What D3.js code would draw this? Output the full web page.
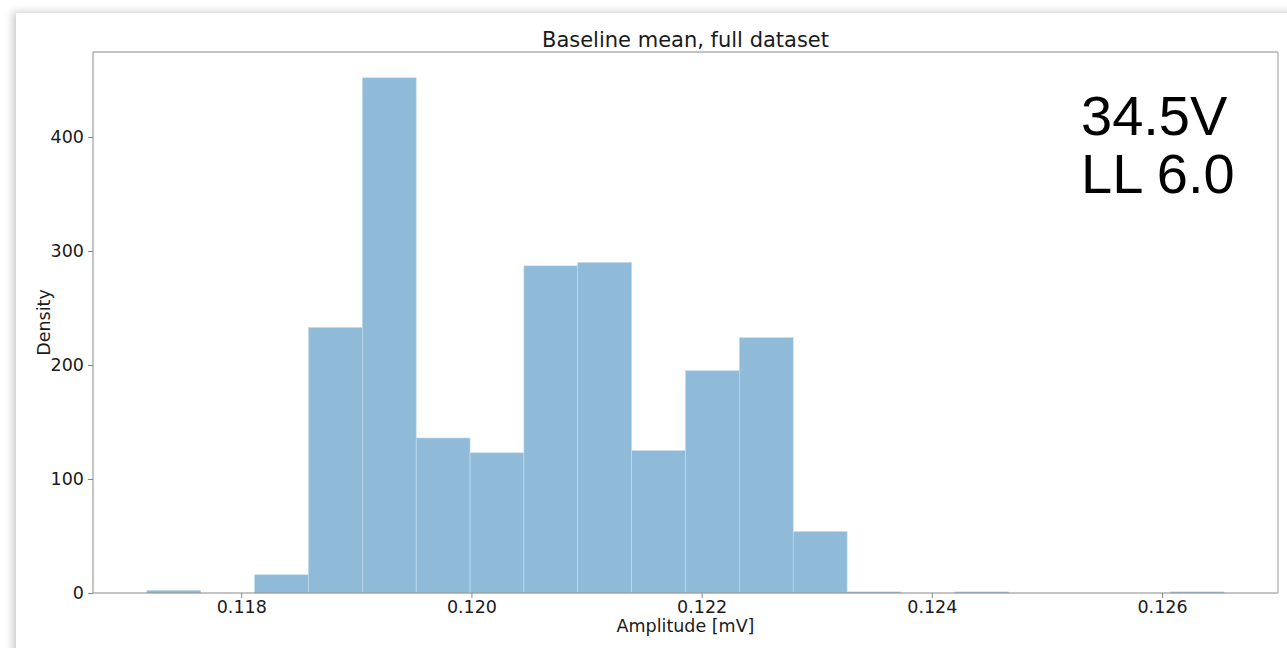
<!DOCTYPE html>
<html>
<head>
<meta charset="utf-8">
<script src="https://cdn.jsdelivr.net/npm/d3@7"></script>
<style>
  body { margin: 0; background: #fff; overflow: hidden; }
  .card { position: absolute; left: 16px; top: 13px; width: 1300px; height: 700px;
          background: #fff; box-shadow: -3px -1px 8px rgba(0,0,0,0.22); }
  svg { position: absolute; left: 0; top: 0; }
  text { font-family: "DejaVu Sans", sans-serif; fill: #1a1a1a; }
</style>
</head>
<body>
<div class="card"></div>
<script>
// histogram bin edges (mV) and density per bin
var binEdges = [0.117180, 0.117648, 0.118116, 0.118584, 0.119052, 0.119520, 0.119988,
                0.120456, 0.120924, 0.121392, 0.121860, 0.122328, 0.122796, 0.123264,
                0.123732, 0.124200, 0.124668, 0.125136, 0.125604, 0.126072, 0.126540];
var density = [2.3, 0, 16, 233, 452, 136, 123, 287, 290, 125, 195, 224, 54, 1, 0, 1, 0, 0, 0, 1];
var xTicks = [0.118, 0.120, 0.122, 0.124, 0.126];
var yTicks = [0, 100, 200, 300, 400];
var annotation = ["34.5V", "LL 6.0"];

var margin = {top: 52, right: 9, bottom: 55, left: 93},
    W = 1287, H = 648,
    width = W - margin.left - margin.right,
    height = H - margin.top - margin.bottom;

var bins = density.map(function(d, i) {
  return {x0: binEdges[i], x1: binEdges[i + 1], v: d};
});

// matplotlib style 5% margins
var span = binEdges[binEdges.length - 1] - binEdges[0];
var x = d3.scaleLinear()
    .domain([binEdges[0] - span * 0.05, binEdges[binEdges.length - 1] + span * 0.05])
    .range([0, width]);
var y = d3.scaleLinear()
    .domain([0, d3.max(density) * 1.05])
    .range([height, 0]);

var svg = d3.select("body").append("svg")
    .attr("width", W)
    .attr("height", H);

var g = svg.append("g")
    .attr("transform", "translate(" + margin.left + "," + margin.top + ")");

g.selectAll(".bar")
    .data(bins.filter(function(d) { return d.v > 0; }))
    .enter().append("rect")
    .attr("class", "bar")
    .attr("x", function(d) { return x(d.x0); })
    .attr("width", function(d) { return x(d.x1) - x(d.x0); })
    .attr("y", function(d) { return y(d.v); })
    .attr("height", function(d) { return height - y(d.v); })
    .attr("fill", "#8fbbd9")
    .attr("stroke", "#c4dcee")
    .attr("stroke-width", 0.6);

var xAxis = g.append("g")
    .attr("transform", "translate(0," + height + ")")
    .call(d3.axisBottom(x).tickValues(xTicks).tickFormat(d3.format(".3f")).tickSize(5).tickPadding(3));
var yAxis = g.append("g")
    .call(d3.axisLeft(y).tickValues(yTicks).tickSize(5).tickPadding(4));

[xAxis, yAxis].forEach(function(a) {
  a.select(".domain").remove();
  a.selectAll(".tick line").attr("stroke", "#888");
  a.selectAll(".tick text").style("font-size", "17.5px").attr("fill", "#1a1a1a");
});

// frame
g.append("line").attr("x1", 0).attr("x2", width).attr("y1", 0).attr("y2", 0).attr("stroke", "#888");
g.append("line").attr("x1", 0).attr("x2", width).attr("y1", height).attr("y2", height).attr("stroke", "#888");
g.append("line").attr("x1", 0).attr("x2", 0).attr("y1", 0).attr("y2", height).attr("stroke", "#888");
g.append("line").attr("x1", width).attr("x2", width).attr("y1", 0).attr("y2", height).attr("stroke", "#bbb").attr("stroke-width", 1.5);

svg.append("text")
    .attr("x", margin.left + width / 2)
    .attr("y", 47)
    .attr("text-anchor", "middle")
    .style("font-size", "21px")
    .text("Baseline mean, full dataset");

svg.append("text")
    .attr("x", margin.left + width / 2)
    .attr("y", 632)
    .attr("text-anchor", "middle")
    .style("font-size", "17.5px")
    .text("Amplitude [mV]");

svg.append("text")
    .attr("transform", "translate(50," + (margin.top + height / 2) + ") rotate(-90)")
    .attr("text-anchor", "middle")
    .style("font-size", "17.5px")
    .text("Density");

svg.selectAll(".note")
    .data(annotation)
    .enter().append("text")
    .attr("class", "note")
    .attr("x", 1081)
    .attr("y", function(d, i) { return 135 + i * 58; })
    .style("font-family", "'Liberation Sans', Arial, sans-serif")
    .style("font-size", "56px")
    .style("fill", "#000")
    .text(function(d) { return d; });
</script>
</body>
</html>
